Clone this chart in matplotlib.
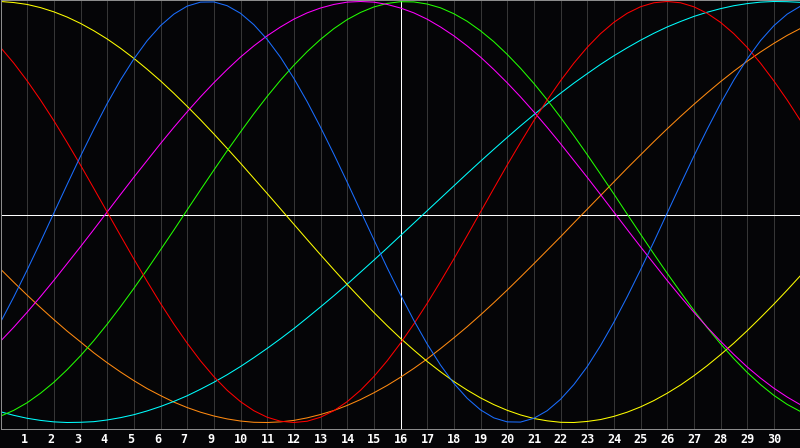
import matplotlib
matplotlib.use("Agg")
import matplotlib.pyplot as plt
from matplotlib.transforms import blended_transform_factory, offset_copy

# Day positions (half-day samples over a 30-day window)
days = [i * 0.5 for i in range(61)]

# Curve values in percent
yellow = [100.0, 99.5, 98.6, 97.1, 95.1, 92.6, 89.6, 86.1, 82.2, 77.8, 73.0, 67.8, 62.3, 56.4, 50.2, 43.8,
          37.1, 30.2, 23.2, 16.0, 8.8, 1.5, -5.8, -13.1, -20.3, -27.4, -34.4, -41.1, -47.7, -54.0, -60.0,
          -65.6, -71.0, -75.9, -80.5, -84.6, -88.3, -91.5, -94.2, -96.4, -98.1, -99.2, -99.9, -100.0, -99.5,
          -98.6, -97.1, -95.1, -92.6, -89.6, -86.1, -82.2, -77.8, -73.0, -67.8, -62.3, -56.4, -50.2, -43.8,
          -37.1, -30.2]
blue = [-52.4, -40.3, -27.5, -14.2, -0.5, 13.1, 26.5, 39.3, 51.5, 62.7, 72.7, 81.4, 88.5, 94.0, 97.8, 99.7,
        99.8, 98.0, 94.4, 89.0, 82.0, 73.5, 63.5, 52.4, 40.3, 27.5, 14.2, 0.5, -13.1, -26.5, -39.3,
        -51.5, -62.7, -72.7, -81.4, -88.5, -94.0, -97.8, -99.7, -99.8, -98.0, -94.4, -89.0, -82.0, -73.5,
        -63.5, -52.4, -40.3, -27.5, -14.2, -0.5, 13.1, 26.5, 39.3, 51.5, 62.7, 72.7, 81.4, 88.5,
        94.0, 97.8]
red = [78.2, 70.7, 62.3, 53.2, 43.4, 33.0, 22.3, 11.2, 0.0, -11.2, -22.3, -33.0, -43.4, -53.2, -62.3, -70.7,
       -78.2, -84.7, -90.1, -94.4, -97.5, -99.4, -100.0, -99.4, -97.5, -94.4, -90.1, -84.7, -78.2, -70.7, -62.3,
       -53.2, -43.4, -33.0, -22.3, -11.2, 0.0, 11.2, 22.3, 33.0, 43.4, 53.2, 62.3, 70.7, 78.2,
       84.7, 90.1, 94.4, 97.5, 99.4, 100.0, 99.4, 97.5, 94.4, 90.1, 84.7, 78.2, 70.7, 62.3,
       53.2, 43.4]
magenta = [-61.4, -54.7, -47.6, -40.2, -32.5, -24.5, -16.5, -8.3, 0.0, 8.3, 16.5, 24.5, 32.5, 40.2, 47.6, 54.7,
           61.4, 67.7, 73.6, 78.9, 83.7, 87.9, 91.6, 94.6, 96.9, 98.6, 99.7, 100.0, 99.7, 98.6, 96.9,
           94.6, 91.6, 87.9, 83.7, 78.9, 73.6, 67.7, 61.4, 54.7, 47.6, 40.2, 32.5, 24.5, 16.5,
           8.3, 0.0, -8.3, -16.5, -24.5, -32.5, -40.2, -47.6, -54.7, -61.4, -67.7, -73.6, -78.9, -83.7,
           -87.9, -91.6]
green = [-97.0, -94.2, -90.6, -86.1, -80.9, -74.9, -68.3, -61.1, -53.3, -45.0, -36.3, -27.3, -18.0, -8.6, 1.0, 10.5,
         19.9, 29.1, 38.0, 46.7, 54.9, 62.6, 69.7, 76.2, 82.0, 87.1, 91.4, 94.8, 97.4, 99.1, 99.9,
         99.8, 98.8, 97.0, 94.2, 90.6, 86.1, 80.9, 74.9, 68.3, 61.1, 53.3, 45.0, 36.3, 27.3,
         18.0, 8.6, -1.0, -10.5, -19.9, -29.1, -38.0, -46.7, -54.9, -62.6, -69.7, -76.2, -82.0, -87.1,
         -91.4, -94.8]
cyan = [-94.9, -96.6, -98.0, -99.0, -99.7, -100.0, -99.9, -99.6, -98.8, -97.7, -96.3, -94.5, -92.4, -90.0, -87.3, -84.2,
        -80.9, -77.3, -73.4, -69.2, -64.8, -60.2, -55.4, -50.3, -45.1, -39.8, -34.3, -28.6, -22.9, -17.1, -11.2,
        -5.3, 0.6, 6.5, 12.4, 18.3, 24.1, 29.8, 35.4, 40.9, 46.2, 51.4, 56.4, 61.2, 65.7,
        70.1, 74.2, 78.0, 81.6, 84.9, 87.9, 90.5, 92.9, 94.9, 96.6, 98.0, 99.0, 99.7, 100.0,
        99.9, 99.6]
orange = [-27.1, -33.4, -39.5, -45.4, -51.1, -56.6, -61.7, -66.9, -71.6, -76.0, -80.1, -83.9, -87.2, -90.3, -92.9, -95.1,
          -96.9, -98.3, -99.3, -99.9, -100.0, -99.7, -99.0, -97.8, -96.2, -94.3, -91.9, -89.1, -85.9, -82.4, -78.5,
          -74.3, -69.8, -64.9, -59.8, -54.5, -48.9, -43.1, -37.1, -30.9, -24.6, -18.2, -11.8, -5.2, 1.3,
          7.8, 14.3, 20.8, 27.1, 33.4, 39.5, 45.4, 51.1, 56.6, 61.9, 66.9, 71.6, 76.0, 80.1,
          83.9, 87.2]

series = [
    (orange, '#ff8a10'),
    (cyan, '#00ffff'),
    (yellow, '#ffff00'),
    (green, '#22ff00'),
    (magenta, '#ff00ff'),
    (red, '#ff0000'),
    (blue, '#1a6eff'),
]

# Bottom labels (column positions 1..29)
day_labels = ['1', '2', '3', '4', '5', '6', '7', '9', '10', '11', '12', '13', '14', '15', '16',
              '17', '18', '19', '20', '21', '22', '23', '24', '25', '26', '27', '28', '29', '30']
label_positions = list(range(1, 30))
center_day = 15

BG = '#050507'
LW = 0.72
fig = plt.figure(figsize=(8, 4.48), dpi=100, facecolor=BG)
ax = fig.add_axes([0.5 / 800, 19.5 / 448, 1.0, 428 / 448])
ax.set_facecolor(BG)
ax.set_xlim(0, 30)
ax.set_ylim(-102.85, 100.475)

# vertical grid
for p in label_positions:
    if p != center_day:
        ax.axvline(p, color='#363636', lw=LW, antialiased=False, zorder=1)
ax.axvline(center_day, color='#ffffff', lw=LW, antialiased=False, zorder=1.5)
ax.axhline(-1.2, color='#ffffff', lw=LW, antialiased=False, zorder=1.5)

for vals, col in series:
    ax.plot(days, vals, color=col, lw=0.75, antialiased=True, zorder=2)

ax.set_xticks([])
ax.set_yticks([])
for side in ['left', 'top', 'bottom']:
    ax.spines[side].set_color('#8c8c8c')
    ax.spines[side].set_linewidth(LW)
    ax.spines[side].set_antialiased(False)
ax.spines['right'].set_visible(False)

trans = offset_copy(blended_transform_factory(ax.transData, ax.transAxes), fig=fig, x=0, y=-11, units='dots')
for p, lab in zip(label_positions, day_labels):
    ax.text(p - 0.25, 0, lab, transform=trans, ha='left', va='center', color='white',
            family='DejaVu Sans Mono', fontweight='bold', fontsize=8.5, clip_on=False)

fig.savefig('out.png', dpi=100, facecolor=BG)
